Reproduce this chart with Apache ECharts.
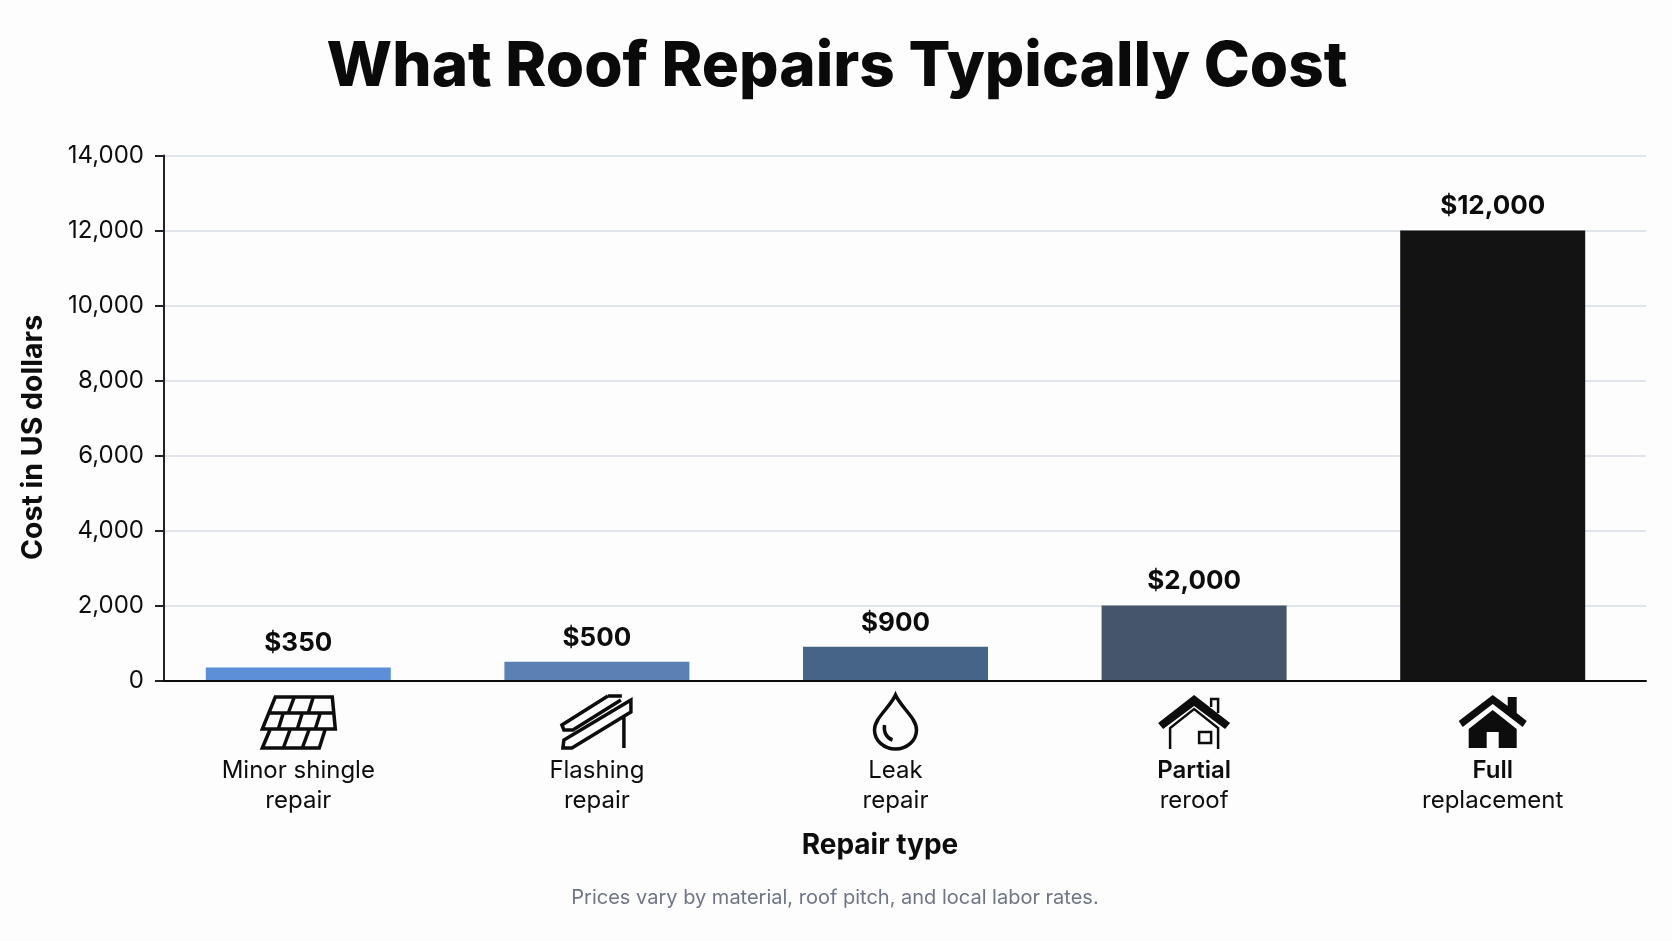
<!DOCTYPE html>
<html>
<head>
<meta charset="utf-8">
<title>What Roof Repairs Typically Cost</title>
<script src="https://cdn.jsdelivr.net/npm/echarts@6/dist/echarts.min.js"></script>
<style>
    html, body { margin: 0; padding: 0; background: #fdfdfe; }
    #chart { width: 1672px; height: 941px; }
</style>
</head>
<body>
<div id="chart"></div>
<script>
"use strict";

var categories = ['Minor shingle\nrepair', 'Flashing\nrepair', 'Leak\nrepair', 'Partial\nreroof', 'Full\nreplacement'];
var costs = [350, 500, 900, 2000, 12000];
var barColors = ['#5c8fd8', '#5a80b4', '#466488', '#46566a', '#131313'];
var boldFirstLine = [false, false, false, true, true];
var yMax = 14000;
var yStep = 2000;

var FONT = 'Inter';
var INK = '#0d0d0d';

/* 图标，以图标中心为原点 */
var icons = [
    [{stroke: 3.5, d: 'M-23 -25L34 -25L37 7L-36 7ZM-29 -9L35 -9M-4 -25L-10 -9M15 -25L10 -9M-15 -9L-20 7M4 -9L-1 7M22 -9L17 7M-28 7L-36 26L21 26L27 7M-8 7L-15 26M11 7L4 26'}],
    [{stroke: 3.5, d: 'M11 -26L25 -26M11 -26L-35 3L-33 8L-24 8L24 -22M34 -22L-33 18L-34 26L-25 26L34 -10ZM27 -7L27 26'}],
    [{stroke: 3.5, d: 'M0 -27C-6 -14 -21 -4 -21 8C-21 19 -11 27 0 27C11 27 21 19 21 8C21 -4 6 -14 0 -27ZM-11 3C-12 10 -9 16 -3 18'}],
    [
        {fill: true, d: 'M0 -27L36 1L31 7L0 -16L-31 7L-36 1Z'},
        {stroke: 2.5, d: 'M-24 27L-24 6L0 -13L24 6L24 27M17 -15L17 -23L24 -23L24 -9M5 10L17 10L17 21L5 21Z'}
    ],
    [
        {fill: true, d: 'M0 -27L15 -16L15 -25L24 -25L24 -9L34 -1L30 5L0 -18L-30 5L-34 -1Z'},
        {fill: true, d: 'M0 -12L24 7L24 26L6 26L6 10L-6 10L-6 26L-24 26L-24 7Z'}
    ]
];

function renderIcon(params, api) {
    var center = api.coord([api.value(0), 0]);
    var layers = icons[params.dataIndex];
    var children = [];
    for (var i = 0; i < layers.length; i++) {
        children.push({
            type: 'path',
            x: center[0],
            y: center[1] + 41.5,
            shape: {pathData: layers[i].d},
            style: layers[i].fill
                ? {fill: INK}
                : {fill: 'none', stroke: INK, lineWidth: layers[i].stroke}
        });
    }
    return {type: 'group', children: children};
}

var barData = [];
var iconData = [];
for (var i = 0, len = costs.length; i < len; i++) {
    barData.push({value: costs[i], itemStyle: {color: barColors[i]}});
    iconData.push([i]);
}

var chart = echarts.init(document.getElementById('chart'));
chart.setOption({
    backgroundColor: '#fdfdfe',
    animation: false,
    title: [
        {
            text: 'What Roof Repairs Typically Cost',
            left: 832,
            top: 31,
            textAlign: 'center',
            textStyle: {fontFamily: FONT, fontSize: 62, fontWeight: 800, color: '#0a0a0a'}
        },
        {
            text: 'Prices vary by material, roof pitch, and local labor rates.',
            left: 830,
            top: 883,
            textAlign: 'center',
            textStyle: {fontFamily: FONT, fontSize: 20, fontWeight: 400, color: '#6f7585'}
        }
    ],
    grid: [
        // 网格线和坐标轴
        {left: 164, right: 26, top: 155.5, height: 525},
        // 柱子，类目位置比坐标轴略微靠左
        {left: 149, width: 1493, top: 155.5, height: 525}
    ],
    xAxis: [
        {
            type: 'category',
            gridIndex: 0,
            data: categories,
            z: 5,
            axisLine: {lineStyle: {color: INK, width: 2}},
            axisTick: {show: false},
            axisLabel: {show: false}
        },
        {
            type: 'category',
            gridIndex: 1,
            data: categories,
            axisLine: {show: false},
            axisTick: {show: false},
            axisLabel: {
                interval: 0,
                margin: 75.5,
                formatter: function (value, index) {
                    var lines = value.split('\n');
                    var first = boldFirstLine[index] ? 'b' : 'a';
                    return '{' + first + '|' + lines[0] + '}\n{a|' + lines[1] + '}';
                },
                rich: {
                    a: {fontFamily: FONT, fontSize: 24, fontWeight: 400, lineHeight: 30, color: INK},
                    b: {fontFamily: FONT, fontSize: 24, fontWeight: 600, lineHeight: 30, color: INK}
                }
            },
            name: 'Repair type',
            nameLocation: 'middle',
            nameGap: 151,
            nameTextStyle: {
                fontFamily: FONT,
                fontSize: 28,
                fontWeight: 700,
                color: INK,
                padding: [0, 31, 0, 0]
            }
        }
    ],
    yAxis: [
        {
            type: 'value',
            gridIndex: 0,
            min: 0,
            max: yMax,
            interval: yStep,
            axisLine: {show: true, lineStyle: {color: '#222222', width: 2}},
            axisTick: {show: true, length: 9, lineStyle: {color: '#222222', width: 2}},
            axisLabel: {
                margin: 20,
                padding: [2, 0, 0, 0],
                fontFamily: FONT,
                fontSize: 24,
                color: INK,
                formatter: function (v) {
                    return echarts.format.addCommas(v);
                }
            },
            splitLine: {show: true, lineStyle: {color: '#d6dbe6', width: 1.5}},
            name: 'Cost in US dollars',
            nameLocation: 'middle',
            nameGap: 116,
            nameTextStyle: {
                fontFamily: FONT,
                fontSize: 28.5,
                fontWeight: 700,
                color: INK,
                padding: [0, 39, 0, 0]
            }
        },
        {
            type: 'value',
            gridIndex: 1,
            min: 0,
            max: yMax,
            interval: yStep,
            show: false,
            splitLine: {show: false}
        }
    ],
    series: [
        {
            name: 'Cost',
            type: 'bar',
            xAxisIndex: 1,
            yAxisIndex: 1,
            barWidth: 185,
            data: barData,
            label: {
                show: true,
                position: 'top',
                distance: 11,
                fontFamily: FONT,
                fontSize: 26,
                fontWeight: 700,
                color: INK,
                formatter: function (p) {
                    return '$' + echarts.format.addCommas(p.value);
                }
            }
        },
        {
            name: 'Icons',
            type: 'custom',
            xAxisIndex: 1,
            yAxisIndex: 1,
            silent: true,
            clip: false,
            renderItem: renderIcon,
            data: iconData
        }
    ]
});
</script>
</body>
</html>
